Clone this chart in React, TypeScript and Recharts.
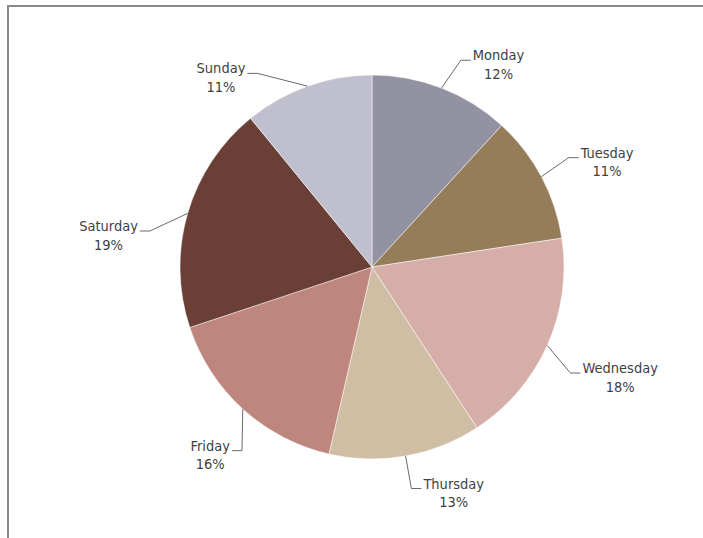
import React from 'react';
import { PieChart, Pie, Cell } from 'recharts';

const days = ['Monday', 'Tuesday', 'Wednesday', 'Thursday', 'Friday', 'Saturday', 'Sunday'];
const shares = [11.8, 10.8, 18.2, 12.8, 16.3, 19.2, 10.9];
const sliceColors = ['#9392A3', '#967D5A', '#D5AEA8', '#D0BEA4', '#BE867D', '#6A3F36', '#C0BFCD'];
// leader-line bend adjustment (degrees, counter-clockwise) to mimic best-fit label placement
const labelBend = [-2, 1, -4, 0, 7, 7, 11];

const data = days.map((d, i) => ({ name: d, value: shares[i] }));

const FONT_FAMILY = "'DejaVu Sans Condensed', 'DejaVu Sans', sans-serif";
const FONT_SIZE = 14.5;

let measureCtx: CanvasRenderingContext2D | null = null;
function textWidth(s: string): number {
  if (typeof document === 'undefined') return s.length * 7.5;
  if (!measureCtx) {
    const c = document.createElement('canvas');
    measureCtx = c.getContext('2d');
  }
  if (!measureCtx) return s.length * 7.5;
  measureCtx.font = `${FONT_SIZE}px ${FONT_FAMILY}`;
  return measureCtx.measureText(s).width;
}

const renderLabel = (props: any) => {
  const { cx, cy, midAngle, outerRadius, percent, name, index } = props;
  const RAD = Math.PI / 180;
  const cos = Math.cos(-midAngle * RAD);
  const sin = Math.sin(-midAngle * RAD);
  const sx = cx + outerRadius * cos;
  const sy = cy + outerRadius * sin;
  const bendAngle = midAngle + (labelBend[index] || 0);
  const bc = Math.cos(-bendAngle * RAD);
  const bs = Math.sin(-bendAngle * RAD);
  const ex = cx + (outerRadius + 33) * bc;
  const ey = cy + (outerRadius + 33) * bs;
  const right = bc >= 0;
  const hx = ex + (right ? 10 : -10);
  const tx = hx + (right ? 2 : -2);
  const w = textWidth(name);
  const centerX = right ? tx + w / 2 : tx - w / 2;
  const pct = `${Math.round(percent * 100)}%`;
  return (
    <g>
      <path d={`M${sx},${sy}L${ex},${ey}L${hx},${ey}`} stroke="#6b6b6b" strokeWidth={1} fill="none" />
      <text
        x={tx}
        y={ey}
        textAnchor={right ? 'start' : 'end'}
        fill="#3f3f3f"
        fontSize={FONT_SIZE}
        fontFamily={FONT_FAMILY}
      >
        {name}
      </text>
      <text
        x={centerX}
        y={ey + 18.5}
        textAnchor="middle"
        fill="#3f3f3f"
        fontSize={FONT_SIZE}
        fontFamily={FONT_FAMILY}
      >
        {pct}
      </text>
    </g>
  );
};

export default function App() {
  return (
    <div
      style={{
        position: 'absolute',
        left: 0,
        top: 0,
        width: 703,
        height: 538,
        overflow: 'hidden',
        background: '#ffffff',
      }}
    >
      <div
        style={{
          position: 'absolute',
          left: 7,
          top: 5,
          width: 720,
          height: 600,
          borderTop: '2px solid #8a8a8a',
          borderLeft: '2px solid #8a8a8a',
          boxSizing: 'border-box',
        }}
      />
      <div style={{ position: 'absolute', left: 0, top: 0 }}>
        <PieChart width={703} height={538} margin={{ top: 0, right: 0, bottom: 0, left: 0 }}>
          <Pie
            data={data}
            dataKey="value"
            nameKey="name"
            cx={372}
            cy={267}
            outerRadius={192}
            startAngle={90}
            endAngle={-270}
            stroke="#ffffff"
            strokeWidth={0.5}
            label={renderLabel}
            labelLine={false}
            isAnimationActive={false}
          >
            {data.map((d, i) => (
              <Cell key={d.name} fill={sliceColors[i]} />
            ))}
          </Pie>
        </PieChart>
      </div>
    </div>
  );
}
